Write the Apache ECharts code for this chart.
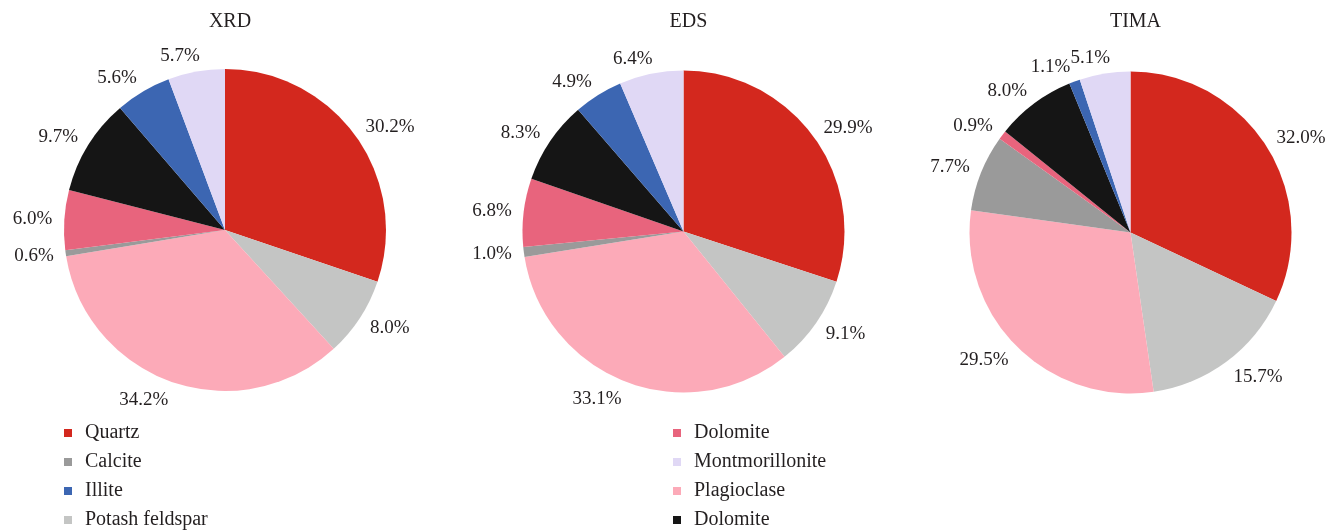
<!DOCTYPE html>
<html>
<head>
<meta charset="utf-8">
<script src="https://cdn.jsdelivr.net/npm/echarts@6/dist/echarts.min.js"></script>
<style>
  html, body { margin: 0; padding: 0; background: #fff; }
  #chart { width: 1340px; height: 531px; }
</style>
</head>
<body>
<div id="chart"></div>
<script>
// Mineral names in slice order (clockwise from 12 o'clock).
// The second "Dolomite" carries a trailing space so the two legend entries stay distinct.
const minerals = ['Quartz', 'Potash feldspar', 'Plagioclase', 'Calcite', 'Dolomite', 'Dolomite ', 'Illite', 'Montmorillonite'];
const colors   = ['#D3281E', '#C4C5C4', '#FCAAB8', '#9A9A9A', '#E8647D', '#151515', '#3C66B2', '#E0D8F5'];

// Percentages per method
const xrdValues  = [30.2, 8.0, 34.2, 0.6, 6.0, 9.7, 5.6, 5.7];
const edsValues  = [29.9, 9.1, 33.1, 1.0, 6.8, 8.3, 4.9, 6.4];
const timaValues = [32.0, 15.7, 29.5, 7.7, 0.9, 8.0, 1.1, 5.1];

const methods = ['XRD', 'EDS', 'TIMA'];

// Legend columns
const legendLeft  = ['Quartz', 'Calcite', 'Illite', 'Potash feldspar'];
const legendRight = ['Dolomite', 'Montmorillonite', 'Plagioclase', 'Dolomite '];

const FONT = '"Liberation Serif", "DejaVu Serif", serif';
const centers = [[225, 230], [683.5, 231.5], [1130.5, 232.5]];
const RADIUS = 161;
const allValues = [xrdValues, edsValues, timaValues];

// Unit vector (screen coords) pointing to the middle of a slice
function midDirection(values, idx) {
  const total = values.reduce((a, b) => a + b, 0);
  let before = 0;
  for (let i = 0; i < idx; i++) before += values[i];
  const ang = (before + values[idx] / 2) / total * 2 * Math.PI; // clockwise from top
  return [Math.sin(ang), -Math.cos(ang)];
}

// Place each percentage just outside its slice, the text box sitting against the rim
function placeLabel(params) {
  const s = params.seriesIndex, d = params.dataIndex;
  const [ux, uy] = midDirection(allValues[s], d);
  const c = centers[s];
  const w = params.labelRect.width, h = params.labelRect.height;
  const px = c[0] + RADIUS * ux, py = c[1] + RADIUS * uy;
  const sx = Math.max(-1, Math.min(1, ux * 4));
  return {
    x: px + sx * w / 2 + 12 * ux,
    y: py + uy * (h / 2 + 6) + 3 * Math.max(uy, 0),
    align: 'center',
    verticalAlign: 'middle'
  };
}

function pieSeries(idx) {
  return {
    type: 'pie',
    name: methods[idx],
    center: centers[idx],
    radius: RADIUS,
    startAngle: 90,
    clockwise: true,
    avoidLabelOverlap: false,
    animation: false,
    itemStyle: { borderWidth: 0 },
    emphasis: { disabled: true },
    label: {
      show: true,
      position: 'outside',
      formatter: p => p.value.toFixed(1) + '%',
      fontFamily: FONT,
      fontSize: 19,
      color: '#231f20'
    },
    labelLine: { show: false },
    labelLayout: placeLabel,
    data: minerals.map((m, i) => ({
      name: m,
      value: allValues[idx][i],
      itemStyle: { color: colors[i] }
    }))
  };
}

const legendBase = {
  orient: 'vertical',
  icon: 'rect',
  itemWidth: 8,
  itemHeight: 8,
  itemGap: 9,
  height: 140,
  selectedMode: false,
  formatter: n => n.trim(),
  textStyle: { fontFamily: FONT, fontSize: 20, lineHeight: 20, color: '#231f20', padding: [0, 0, 0, 8] }
};

const chart = echarts.init(document.getElementById('chart'), null, { renderer: 'canvas' });
chart.setOption({
  backgroundColor: '#fff',
  color: colors,
  title: methods.map((t, i) => ({
    text: t,
    left: centers[i][0],
    top: 7,
    textAlign: 'center',
    textStyle: { fontFamily: FONT, fontSize: 20, fontWeight: 'normal', color: '#231f20' }
  })),
  legend: [
    Object.assign({}, legendBase, { data: legendLeft,  left: 59,  top: 418 }),
    Object.assign({}, legendBase, { data: legendRight, left: 668, top: 418 })
  ],
  series: [pieSeries(0), pieSeries(1), pieSeries(2)]
});
</script>
</body>
</html>
